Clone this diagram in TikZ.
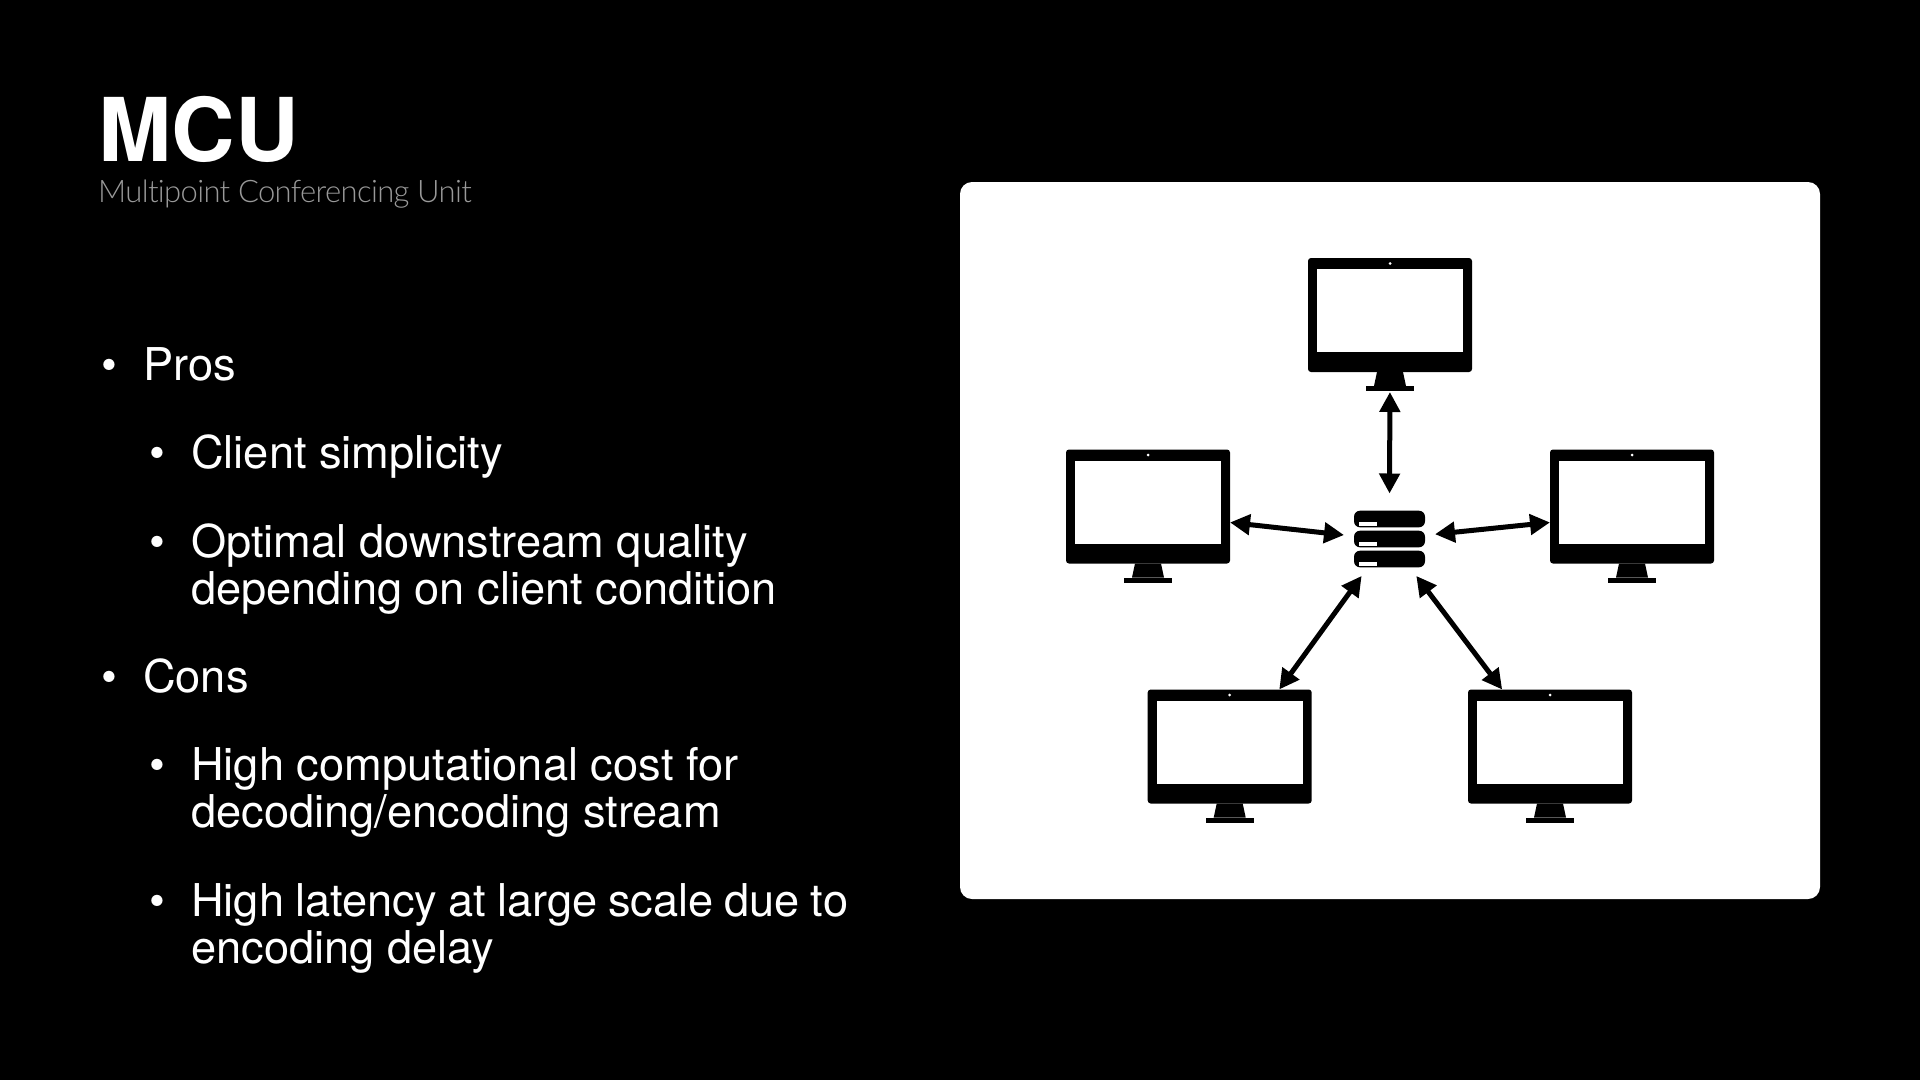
\documentclass[tikz,border=0pt]{standalone}
\usepackage{fontspec}
\setmainfont{TeX Gyre Heros}
\newfontfamily\thinfont[LetterSpace=-2.15,Ligatures=NoCommon]{Lato Light}
\usetikzlibrary{arrows.meta,positioning}
\newcommand{\tightwords}{\spaceskip=10.9pt\relax}
\tikzset{
  monitor/.style={fill=black,rounded corners=3pt,inner sep=0pt,outer sep=0pt,
    minimum width=164pt,minimum height=114pt},
  hub/.style={inner sep=0pt,outer sep=10pt,minimum width=71pt,minimum height=57pt},
  link/.style={line width=5pt,{Triangle[length=20pt,width=20pt]}-{Triangle[length=20pt,width=20pt]}},
  body/.style={anchor=base west,inner sep=0pt,text=white,align=left,
    font=\fontsize{45.2}{47}\selectfont},
  bul/.style={anchor=base,inner sep=0pt,text=white,font=\fontsize{45.2}{47}\selectfont}
}
\begin{document}
\begin{tikzpicture}[x=1pt,y=-1pt]
\useasboundingbox (0,0) rectangle (1920,1080);
\fill[black] (0,0) rectangle (1920,1080);
% title
\node[anchor=base west,inner sep=0pt,text=white,font=\fontsize{88}{88}\selectfont\bfseries] (title) at (98,161) {MCU};
\node[anchor=base west,inner sep=0pt,text=black!40!white,font=\fontsize{31}{31}\thinfont] (subtitle) at (98,202) {Multipoint Conferencing Unit};
% list
\node[bul] (b1) at (109,380) {\textbullet};
\node[body] (pros) at (143,380) {Pros};
\node[bul] (b2) at (157,468) {\textbullet};
\node[body] (simple) at (191,468) {Client simplicity};
\node[bul] (b3) at (157,557) {\textbullet};
\node[body] (quality) at (191,604) {Optimal downstream quality\\depending on client condition};
\node[bul] (b4) at (109,692) {\textbullet};
\node[body] (cons) at (143,692) {Cons};
\node[bul] (b5) at (157,780) {\textbullet};
\node[body] (cost) at (191,827) {High computational cost for\\decoding/encoding stream};
\node[bul] (b6) at (157,916) {\textbullet};
\node[body] (delay) at (191,963) {\tightwords High latency at large scale due to\\encoding delay};
% panel
\fill[white,rounded corners=12pt] (960,182) rectangle (1820,899);
\node[monitor] (monA) at (1390,315) {};
\node[monitor] (monB) at (1148,506.5) {};
\node[monitor] (monC) at (1632,506.5) {};
\node[monitor] (monD) at (1229.7,746.5) {};
\node[monitor] (monE) at (1550,746.5) {};
\foreach \m in {monA,monB,monC,monD,monE}{
  \begin{scope}[shift={(\m.center)}]
    \fill[white] (-73,-46) rectangle (73,37);
    \fill[white] (0,-51.5) circle (1.5);
    \fill[black] (-13,57) -- (13,57) -- (16,71) -- (-16,71) -- cycle;
    \fill[black] (-24,71) rectangle (24,76);
  \end{scope}
}
\node[hub] (srv) at (1389.5,539) {};
\begin{scope}[shift={(srv.center)}]
  \foreach \yy in {-20,0,20}{
    \fill[black,rounded corners=6pt] (-35.5,\yy-8.3) rectangle (35.5,\yy+8.3);
    \fill[white] (-30.5,\yy+3.3) rectangle (-12.5,\yy+6.7);
  }
\end{scope}
\draw[link,shorten <=7pt,shorten >=20pt] (srv.north) -- (monA.south);
\draw[link] (srv.175) -- (monB.-11.7);
\draw[link] (srv.6.2) -- (monC.191.7);
\draw[link,shorten <=-2pt] (srv.233.9) -- (monD.49.1);
\draw[link,shorten <=-2pt] (srv.306.1) -- (monE.130.9);
\end{tikzpicture}
\end{document}
